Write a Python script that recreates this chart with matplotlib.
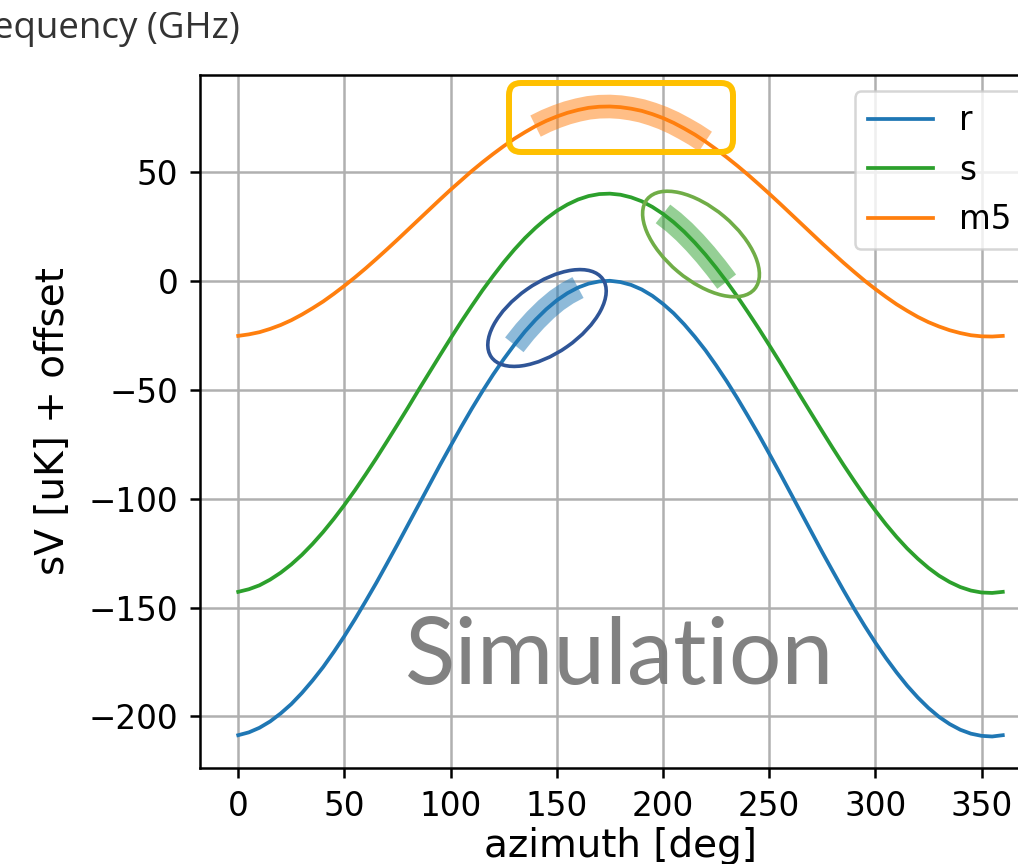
"""sV vs azimuth simulation plot with highlight annotations -> out.png"""
import matplotlib
matplotlib.use("Agg")
import matplotlib.pyplot as plt
from matplotlib.patches import Ellipse, FancyBboxPatch

# ── data (every 5 deg) ───────────────────────────────────────────────────────
azimuth = list(range(0, 361, 5))

sv_r = [-208.6, -207.3, -205.2, -202.3, -198.6, -194.3, -189.2, -183.5, -177.3,
        -170.4, -163.1, -155.3, -147.1, -138.7, -129.9, -121.0, -111.9, -102.8,
        -93.7, -84.6, -75.8, -67.1, -58.7, -50.7, -43.1, -36.0, -29.4, -23.3,
        -17.9, -13.1, -9.0, -5.7, -3.1, -1.3, -0.3, 0.0, -0.6, -1.9, -4.0, -6.9,
        -10.6, -14.9, -20.0, -25.7, -31.9, -38.8, -46.1, -53.9, -62.1, -70.5,
        -79.3, -88.2, -97.3, -106.4, -115.5, -124.6, -133.4, -142.1, -150.5,
        -158.5, -166.1, -173.2, -179.8, -185.9, -191.3, -196.1, -200.2, -203.5,
        -206.1, -207.9, -208.9, -209.2, -208.6]

sv_s = [-142.8, -141.6, -139.8, -137.2, -134.0, -130.2, -125.8, -120.8, -115.3,
        -109.3, -102.9, -96.1, -88.9, -81.5, -73.8, -66.0, -58.1, -50.0, -42.1,
        -34.2, -26.4, -18.8, -11.5, -4.4, 2.2, 8.5, 14.3, 19.6, 24.3, 28.5, 32.1,
        35.0, 37.3, 38.9, 39.8, 40.0, 39.5, 38.3, 36.5, 33.9, 30.7, 26.9, 22.5,
        17.5, 12.0, 6.0, -0.4, -7.2, -14.4, -21.8, -29.5, -37.3, -45.3, -53.3,
        -61.2, -69.1, -76.9, -84.5, -91.8, -98.9, -105.5, -111.8, -117.6, -122.9,
        -127.6, -131.8, -135.4, -138.3, -140.6, -142.2, -143.1, -143.3, -142.8]

sv_m5 = [-25.3, -24.6, -23.6, -22.1, -20.3, -18.1, -15.5, -12.6, -9.5, -6.0,
         -2.3, 1.6, 5.7, 10.0, 14.4, 18.9, 23.5, 28.1, 32.7, 37.3, 41.8, 46.1,
         50.4, 54.4, 58.2, 61.8, 65.2, 68.2, 71.0, 73.4, 75.4, 77.1, 78.4, 79.4,
         79.9, 80.0, 79.7, 79.0, 78.0, 76.5, 74.7, 72.5, 69.9, 67.1, 63.9, 60.4,
         56.7, 52.8, 48.7, 44.4, 40.0, 35.5, 30.9, 26.3, 21.7, 17.1, 12.7, 8.3,
         4.1, 0.0, -3.8, -7.4, -10.8, -13.8, -16.6, -19.0, -21.0, -22.7, -24.0,
         -25.0, -25.5, -25.6, -25.3]

labels = ["r", "s", "m5"]

# highlighted azimuth ranges (deg)
hl_r = (130, 160)
hl_s = (200, 230)
hl_m5 = (140, 220)

# ── style ────────────────────────────────────────────────────────────────────
C_R, C_S, C_M5 = "#1f77b4", "#2ca02c", "#ff7f0e"
W, H = 1018, 864
DPI = 100

plt.rcParams.update({
    "font.family": ["DejaVu Sans"],
    "font.size": 23.5,
    "axes.linewidth": 1.8,
    "xtick.major.width": 1.8,
    "ytick.major.width": 1.8,
    "xtick.major.size": 7.5,
    "ytick.major.size": 7.5,
    "xtick.major.pad": 8,
    "ytick.major.pad": 8,
})

fig = plt.figure(figsize=(W / DPI, H / DPI), dpi=DPI)
fig.patch.set_facecolor("white")
ax = fig.add_axes([200 / W, (H - 768) / H, 841 / W, 693 / H])

ax.plot(azimuth, sv_r, color=C_R, lw=2.7, label=labels[0], zorder=3)
ax.plot(azimuth, sv_s, color=C_S, lw=2.7, label=labels[1], zorder=3)
ax.plot(azimuth, sv_m5, color=C_M5, lw=2.7, label=labels[2], zorder=3)


def highlight(xs, ys, rng, color):
    sel = [(x, y) for x, y in zip(xs, ys) if rng[0] <= x <= rng[1]]
    ax.plot([p[0] for p in sel], [p[1] for p in sel], color=color, lw=17,
            alpha=0.5, solid_capstyle="butt", solid_joinstyle="round", zorder=4)


highlight(azimuth, sv_r, hl_r, C_R)
highlight(azimuth, sv_s, hl_s, C_S)
highlight(azimuth, sv_m5, hl_m5, C_M5)

ax.grid(True, color="#b0b0b0", lw=1.8)
ax.set_axisbelow(True)
ax.set_xticks(range(0, 351, 50))
ax.set_yticks(range(-200, 51, 50))
ax.set_xlabel("azimuth [deg]", fontsize=28, labelpad=3)
ax.set_ylabel("sV [uK] + offset", fontsize=28, labelpad=12)

leg = ax.legend(loc="upper right", fontsize=23.5, handlelength=2.0,
                borderpad=0.4, labelspacing=0.5, framealpha=0.8)
leg.get_frame().set_linewidth(1.8)

# ── annotations (figure pixel space, origin top-left) ────────────────────────
def px(x, y):
    return x / DPI, (H - y) / DPI

tr = fig.dpi_scale_trans
fig.patches.append(Ellipse(px(547, 318), 136 / DPI, 70 / DPI, angle=35,
                           fill=False, ec="#2F5597", lw=2.6, transform=tr, zorder=6))
fig.patches.append(Ellipse(px(701, 244), 140 / DPI, 72 / DPI, angle=-40,
                           fill=False, ec="#70AD47", lw=2.6, transform=tr, zorder=6))
fig.patches.append(FancyBboxPatch(px(509, 152), 224 / DPI, 69 / DPI,
                                  boxstyle="round,pad=0,rounding_size=0.12",
                                  fill=False, ec="#FFC000", lw=4.3, transform=tr, zorder=6))

fig.text(620 / W, 1 - 658 / H, "Simulation", family=["Lato", "DejaVu Sans"],
         fontsize=67, color="#7a7a7a", ha="center", va="center", alpha=0.95)

# header of the neighbouring panel, cropped at the left edge as in the source
fig.text(240 / W, 1 - 38 / H, "Frequency (GHz)", family=["Open Sans", "DejaVu Sans"],
         fontsize=26.5, color="#333333", ha="right", va="baseline")

fig.savefig("out.png", dpi=DPI, facecolor="white")
